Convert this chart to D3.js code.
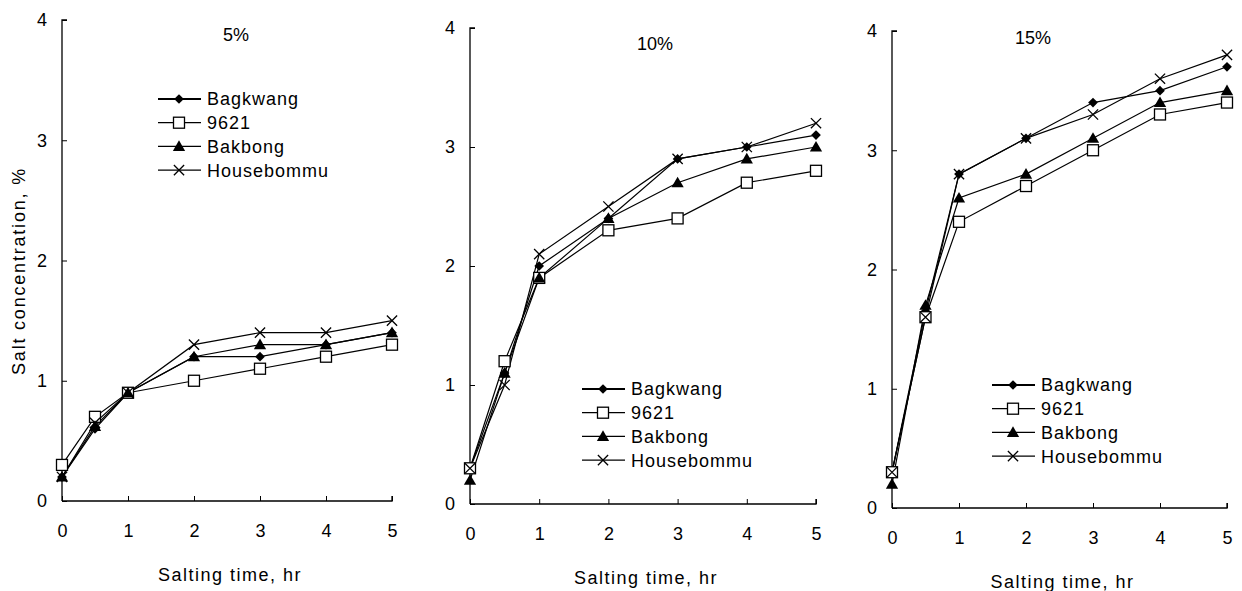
<!DOCTYPE html>
<html>
<head>
<meta charset="utf-8">
<script src="https://cdn.jsdelivr.net/npm/d3@7"></script>
<style>
  body { margin: 0; background: #fff; }
  text { font-family: "Liberation Sans", Arial, sans-serif; fill: #000; }
</style>
</head>
<body>
<div id="root"></div>
<script>
// DATA
const hours = [0, 0.5, 1, 2, 3, 4, 5];
const seriesNames = ['Bagkwang', '9621', 'Bakbong', 'Housebommu'];
const panelTitles = ['5%', '10%', '15%'];
const xTicks = [0, 1, 2, 3, 4, 5];
const yTicks = [0, 1, 2, 3, 4];

// 5% brine
const bagkwang5 = [0.2, 0.6, 0.9, 1.2, 1.2, 1.3, 1.4];
const s9621_5 = [0.3, 0.7, 0.9, 1.0, 1.1, 1.2, 1.3];
const bakbong5 = [0.2, 0.62, 0.9, 1.2, 1.3, 1.3, 1.4];
const house5 = [0.2, 0.65, 0.9, 1.3, 1.4, 1.4, 1.5];

// 10% brine
const bagkwang10 = [0.3, 1.1, 2.0, 2.4, 2.9, 3.0, 3.1];
const s9621_10 = [0.3, 1.2, 1.9, 2.3, 2.4, 2.7, 2.8];
const bakbong10 = [0.2, 1.1, 1.9, 2.4, 2.7, 2.9, 3.0];
const house10 = [0.3, 1.0, 2.1, 2.5, 2.9, 3.0, 3.2];

// 15% brine
const bagkwang15 = [0.3, 1.65, 2.8, 3.1, 3.4, 3.5, 3.7];
const s9621_15 = [0.3, 1.6, 2.4, 2.7, 3.0, 3.3, 3.4];
const bakbong15 = [0.2, 1.7, 2.6, 2.8, 3.1, 3.4, 3.5];
const house15 = [0.3, 1.6, 2.8, 3.1, 3.3, 3.6, 3.8];

const panelData = [
  [bagkwang5, s9621_5, bakbong5, house5],
  [bagkwang10, s9621_10, bakbong10, house10],
  [bagkwang15, s9621_15, bakbong15, house15]
];

// LAYOUT (pixel geometry of each panel)
const panels = [
  { x0: 62, x1: 392, yTop: 20, yBot: 501, title: [236, 41], legend: [158, 99] },
  { x0: 470, x1: 816, yTop: 28, yBot: 504, title: [655, 50], legend: [582, 389] },
  { x0: 892, x1: 1227, yTop: 31, yBot: 508, title: [1033, 44], legend: [992, 385] }
];

const FONT = '"Liberation Sans", Arial, sans-serif';

const svg = d3.select('#root').append('svg')
  .attr('width', 1242).attr('height', 591);

function drawMarker(g, idx, cx, cy) {
  if (idx === 0) {
    g.append('path').attr('d', d3.symbol(d3.symbolDiamond2, 60)())
      .attr('transform', `translate(${cx},${cy})`).attr('fill', '#000');
  } else if (idx === 1) {
    g.append('rect').attr('x', cx - 5.5).attr('y', cy - 5.5)
      .attr('width', 11).attr('height', 11)
      .attr('fill', '#fff').attr('stroke', '#000').attr('stroke-width', 1.3);
  } else if (idx === 2) {
    g.append('path').attr('d', d3.symbol(d3.symbolTriangle, 65)())
      .attr('transform', `translate(${cx},${cy + 1})`).attr('fill', '#000');
  } else {
    g.append('path').attr('d', d3.symbol(d3.symbolTimes, 70)())
      .attr('transform', `translate(${cx},${cy})`)
      .attr('fill', 'none').attr('stroke', '#000').attr('stroke-width', 1.3);
  }
}

panels.forEach((p, pi) => {
  const xScale = d3.scaleLinear().domain([0, 5]).range([p.x0, p.x1]);
  const yScale = d3.scaleLinear().domain([0, 4]).range([p.yBot, p.yTop]);
  const g = svg.append('g');

  // Y axis: ticks point inward
  const yAxis = g.append('g')
    .attr('transform', `translate(${p.x0},0)`)
    .call(d3.axisRight(yScale).tickValues(yTicks).tickSize(5).tickFormat(d3.format('d')));
  yAxis.select('.domain').attr('d', `M5,${p.yTop}H0V${p.yBot}`).attr('stroke-width', 1.3);
  yAxis.selectAll('text').attr('x', -15).attr('text-anchor', 'end')
    .style('font-size', '18px').style('font-family', FONT);

  // X axis: ticks point upward
  const xAxis = g.append('g')
    .attr('transform', `translate(0,${p.yBot})`)
    .call(d3.axisTop(xScale).tickValues(xTicks).tickSize(5).tickFormat(d3.format('d')));
  xAxis.select('.domain').attr('d', `M${p.x0},0H${p.x1}V-5`).attr('stroke-width', 1.3);
  xAxis.selectAll('text').attr('y', 30).attr('dy', '0.32em')
    .style('font-size', '18px').style('font-family', FONT);

  // X axis title
  g.append('text').attr('x', (p.x0 + p.x1) / 2 + 3).attr('y', p.yBot + 80)
    .attr('text-anchor', 'middle').style('font-size', '18px')
    .style('letter-spacing', '1.5px').text('Salting time, hr');

  // Panel title
  g.append('text').attr('x', p.title[0]).attr('y', p.title[1])
    .attr('text-anchor', 'middle').style('font-size', '18px').text(panelTitles[pi]);

  // Series lines and markers
  const line = d3.line().x((d, i) => xScale(hours[i])).y(d => yScale(d));
  panelData[pi].forEach((vals) => {
    g.append('path').datum(vals)
      .attr('fill', 'none').attr('stroke', '#000').attr('stroke-width', 1.2)
      .attr('d', line);
  });
  panelData[pi].forEach((vals, si) => {
    vals.forEach((v, i) => drawMarker(g, si, xScale(hours[i]), yScale(v)));
  });

  // Legend
  const lg = g.append('g');
  seriesNames.forEach((name, si) => {
    const ly = p.legend[1] + si * 23.7;
    const lx = p.legend[0];
    lg.append('line').attr('x1', lx).attr('x2', lx + 43).attr('y1', ly).attr('y2', ly)
      .attr('stroke', '#000').attr('stroke-width', si === 0 ? 2 : 1.3);
    drawMarker(lg, si, lx + 21, ly);
    lg.append('text').attr('x', lx + 49).attr('y', ly).attr('dy', '0.36em')
      .style('font-size', '18px').style('letter-spacing', '1px').text(name);
  });
});

// Y axis title (first panel only)
svg.append('text')
  .attr('transform', 'translate(25,271) rotate(-90)')
  .attr('text-anchor', 'middle').style('font-size', '18px')
  .style('letter-spacing', '1.8px')
  .text('Salt concentration, %');
</script>
</body>
</html>
